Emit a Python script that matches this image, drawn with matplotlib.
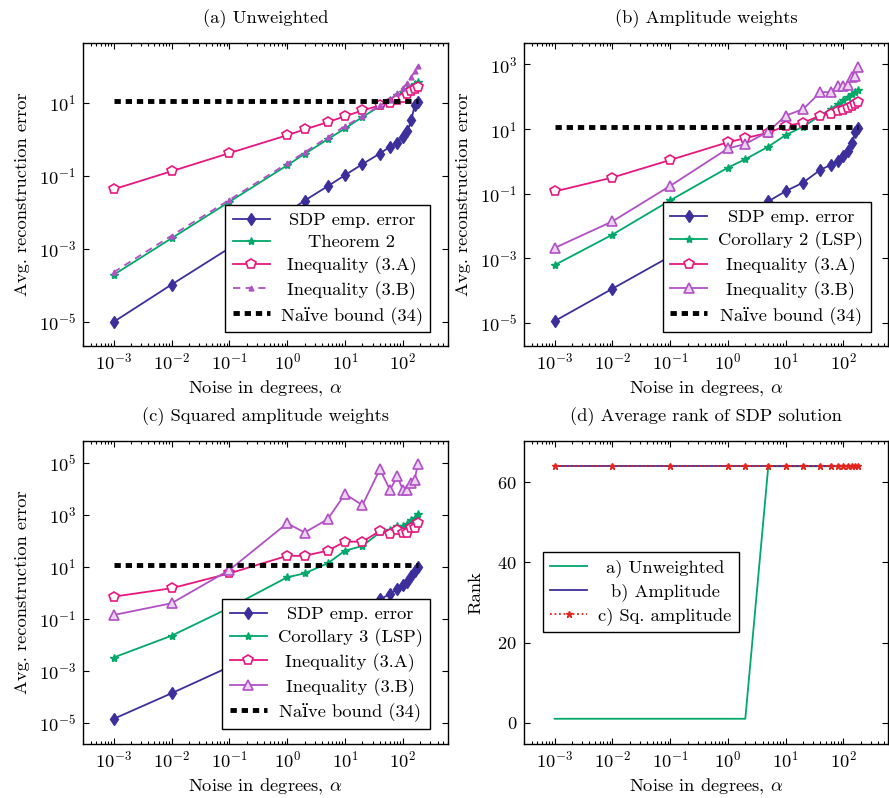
import matplotlib
matplotlib.use('Agg')
import matplotlib.pyplot as plt
from matplotlib.ticker import LogLocator, FixedLocator, NullLocator, LogFormatterSciNotation

plt.rcParams['font.family'] = ['cmr10', 'DejaVu Serif']
plt.rcParams['mathtext.fontset'] = 'cm'
plt.rcParams['axes.formatter.use_mathtext'] = True
plt.rcParams['axes.unicode_minus'] = False
plt.rcParams['font.size'] = 13.3

noise = [1e-3, 1e-2, 1e-1, 1, 2, 5, 10, 20, 40, 60, 80, 100, 120, 140, 160, 180]
naive = [11.5] * len(noise)
xticks = [1e-3, 1e-2, 1e-1, 1e0, 1e1, 1e2]

# (a) unweighted
a_sdp = [1.0e-5, 1.05e-4, 1.05e-3, 1.0e-2, 2.1e-2, 5.2e-2, 0.105, 0.21, 0.41, 0.63, 0.82, 1.17, 1.66, 3.4, 8.5, 10.8]
a_thm = [1.95e-4, 1.95e-3, 1.95e-2, 0.195, 0.40, 1.0, 2.0, 4.1, 8.1, 12.0, 16.0, 20.0, 24.0, 28.0, 32.0, 37.0]
a_ineqA = [0.043, 0.134, 0.42, 1.3, 1.87, 2.95, 4.3, 6.2, 8.5, 10.0, 12.3, 13.7, 17.0, 21.0, 24.0, 27.5]
a_ineqB = [2.3e-4, 2.3e-3, 2.2e-2, 0.22, 0.44, 1.15, 2.3, 4.3, 8.5, 11.8, 19.0, 26.0, 35.0, 52.0, 74.0, 100.0]

# (b) amplitude weights
b_sdp = [1.15e-5, 1.15e-4, 1.15e-3, 1.15e-2, 2.3e-2, 5.8e-2, 0.12, 0.22, 0.55, 0.77, 1.03, 1.47, 2.1, 3.6, 8.3, 11.0]
b_cor = [6.2e-4, 5.4e-3, 6.2e-2, 0.64, 1.16, 2.85, 6.5, 11.8, 26.0, 41.0, 59.0, 78.0, 99.0, 117.0, 141.0, 165.0]
b_ineqA = [0.117, 0.316, 1.1, 3.9, 5.2, 7.7, 12.4, 15.7, 26.0, 30.0, 36.0, 38.6, 43.4, 51.0, 58.0, 70.0]
b_ineqB = [2.1e-3, 1.39e-2, 0.174, 2.5, 3.45, 8.3, 26.0, 41.0, 138.0, 138.0, 212.0, 212.0, 230.0, 400.0, 450.0, 810.0]

# (c) squared amplitude weights
c_sdp = [1.4e-5, 1.35e-4, 1.4e-3, 1.4e-2, 2.8e-2, 7.0e-2, 0.13, 0.27, 0.55, 0.89, 1.35, 1.95, 2.65, 4.5, 7.0, 10.0]
c_cor = [3.2e-3, 2.2e-2, 0.26, 3.9, 5.5, 13.4, 41.0, 62.0, 208.0, 255.0, 365.0, 365.0, 435.0, 620.0, 720.0, 1070.0]
c_ineqA = [0.7, 1.47, 5.5, 26.0, 26.0, 41.0, 91.0, 91.0, 235.0, 175.0, 255.0, 205.0, 205.0, 297.0, 297.0, 465.0]
c_ineqB = [0.138, 0.39, 7.4, 465.0, 205.0, 660.0, 6200.0, 2300.0, 55000.0, 8900.0, 30000.0, 8900.0, 8900.0, 16000.0, 21700.0, 85000.0]

# (d) rank
rank_unw = [1, 1, 1, 1, 1, 64, 64, 64, 64, 64, 64, 64, 64, 64, 64, 64]
rank_amp = [64] * 16
rank_sq = [64] * 16

BLUE = '#3c2f9c'
GREEN = '#00a86a'
PINK = '#e8177f'
PURPLE = '#b150c5'
RED = '#e3241c'

fig = plt.figure(figsize=(8.89, 7.98), dpi=100)
W, H = 889, 798


def make_ax(l, t, r, b):
    return fig.add_axes([l / W, 1 - b / H, (r - l) / W, (b - t) / H])


axa = make_ax(83, 43, 448, 346)
axb = make_ax(524, 43, 888.5, 346)
axc = make_ax(83, 441, 448, 744)
axd = make_ax(524, 441, 888.5, 744)


def style(ax, title, ylabel, yticks=None, ylabelpad=6):
    ax.set_xscale('log')
    ax.set_xlim(10 ** -3.53, 10 ** 2.78)
    ax.xaxis.set_major_locator(FixedLocator(xticks))
    ax.xaxis.set_major_formatter(LogFormatterSciNotation())
    ax.xaxis.set_minor_locator(LogLocator(base=10, subs=range(2, 10), numticks=100))
    ax.tick_params(which='both', direction='in', top=True, right=True, width=0.8)
    ax.tick_params(which='major', length=4, pad=5)
    ax.tick_params(which='minor', length=2.5)
    ax.tick_params(axis='x', which='major', pad=4)
    if yticks is not None:
        ax.yaxis.set_major_locator(FixedLocator(yticks))
        ax.yaxis.set_major_formatter(LogFormatterSciNotation())
        ax.yaxis.set_minor_locator(NullLocator())
    for s in ax.spines.values():
        s.set_linewidth(1.0)
    ax.set_title(title, fontsize=13.3, pad=14)
    ax.set_xlabel(r'Noise in degrees, $\alpha$', labelpad=4)
    ax.set_ylabel(ylabel, labelpad=ylabelpad)


def error_panel(ax, sdp, bound, ineqA, ineqB, bound_label, dashedB):
    ax.set_yscale('log')
    ax.plot(noise, sdp, color=BLUE, lw=1.3, marker='d', ms=6, label='SDP emp. error')
    ax.plot(noise, bound, color=GREEN, lw=1.3, marker='*', ms=6, label=bound_label)
    ax.plot(noise, ineqA, color=PINK, lw=1.3, marker='p', ms=7, mfc='white', mew=1.2,
            label='Inequality (3.A)')
    if dashedB:
        ax.plot(noise, ineqB, color=PURPLE, lw=1.3, ls=(0, (4, 3)), marker='^', ms=3.5,
                label='Inequality (3.B)')
    else:
        ax.plot(noise, ineqB, color=PURPLE, lw=1.3, marker='^', ms=7, mfc='#ecd3f1', mew=1.2,
                label='Inequality (3.B)')
    ax.plot(noise, naive, color='black', lw=3.5, ls=(0, (1.3, 1.0)), label='Naïve bound (34)')


def add_legend(ax, **kw):
    leg = ax.legend(frameon=True, fancybox=False, framealpha=1, edgecolor='black',
                    borderaxespad=0, handlelength=2.0, handletextpad=0.6,
                    labelspacing=0.33, borderpad=0.4, fontsize=13.3, **kw)
    leg.get_frame().set_linewidth(1.0)
    return leg


error_panel(axa, a_sdp, a_thm, a_ineqA, a_ineqB, 'Theorem 2', True)
axa.set_ylim(10 ** -5.66, 10 ** 2.64)
style(axa, '(a) Unweighted', 'Avg. reconstruction error', [1e-5, 1e-3, 1e-1, 1e1])
leg_a = add_legend(axa, loc='lower right', bbox_to_anchor=(0.951, 0.046))

error_panel(axb, b_sdp, b_cor, b_ineqA, b_ineqB, 'Corollary 2 (LSP)', False)
axb.set_ylim(10 ** -5.71, 10 ** 3.66)
style(axb, '(b) Amplitude weights', 'Avg. reconstruction error', [1e-5, 1e-3, 1e-1, 1e1, 1e3])
leg_b = add_legend(axb, loc='lower right', bbox_to_anchor=(0.951, 0.046))

error_panel(axc, c_sdp, c_cor, c_ineqA, c_ineqB, 'Corollary 3 (LSP)', False)
axc.set_ylim(10 ** -5.82, 10 ** 5.83)
style(axc, '(c) Squared amplitude weights', 'Avg. reconstruction error',
      [1e-5, 1e-3, 1e-1, 1e1, 1e3, 1e5])
leg_c = add_legend(axc, loc='lower right', bbox_to_anchor=(0.951, 0.05))

axd.plot(noise, rank_unw, color=GREEN, lw=1.3, label='a) Unweighted')
axd.plot(noise, rank_amp, color=BLUE, lw=1.3, label='b) Amplitude')
axd.plot(noise, rank_sq, color=RED, lw=1.3, ls=(0, (1, 1.5)), marker='*', ms=5,
         label='c) Sq. amplitude')
axd.set_ylim(-5.3, 70.3)
style(axd, '(d) Average rank of SDP solution', 'Rank', ylabelpad=10)
axd.yaxis.set_major_locator(FixedLocator([0, 20, 40, 60]))
axd.yaxis.set_minor_locator(NullLocator())
leg_d = add_legend(axd, loc='upper left', bbox_to_anchor=(0.052, 0.634))

# centre legend labels like pgfplots does
fig.canvas.draw()
renderer = fig.canvas.get_renderer()
for leg in (leg_a, leg_b, leg_c, leg_d):
    texts = leg.get_texts()
    widths = [t.get_window_extent(renderer).width for t in texts]
    wmax = max(widths)
    for t, w in zip(texts, widths):
        t.set_x((wmax - w) / 2)

fig.savefig('out.png', dpi=100)
